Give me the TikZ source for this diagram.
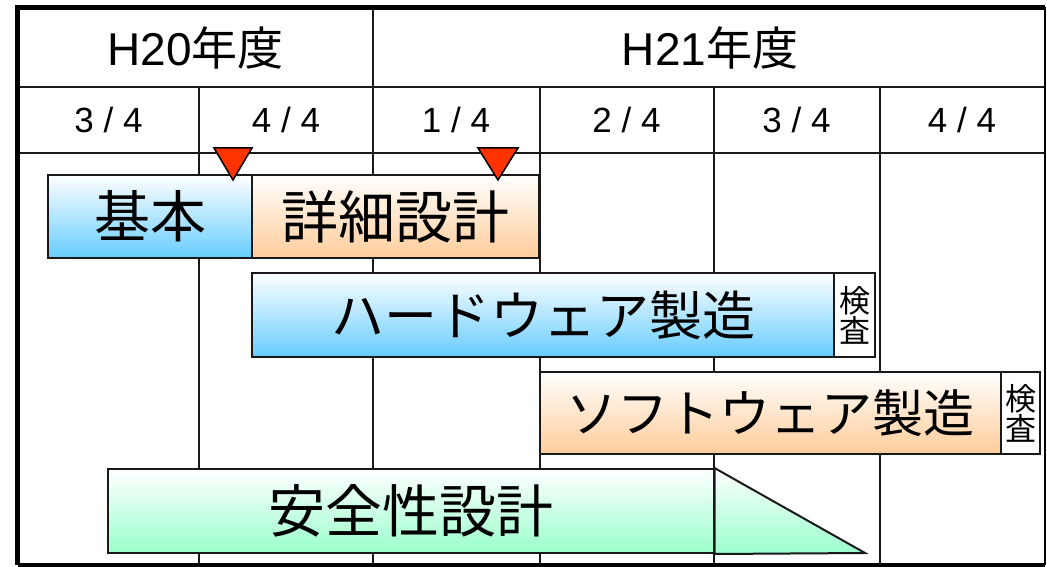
\documentclass[tikz,border=0pt]{standalone}
\usepackage{fontspec}
\setmainfont{Liberation Sans}
\newfontfamily\cjk{Noto Sans CJK JP}
\definecolor{blueb}{HTML}{66CCFF}
\definecolor{orangeb}{HTML}{FFCC99}
\definecolor{greenb}{HTML}{99FFCC}
\definecolor{markred}{HTML}{FF3300}
\begin{document}
\begin{tikzpicture}[x=1pt,y=-1pt,
  grid/.style={line width=2pt,black!90},
  frameline/.style={line width=5pt,black},
  yearlbl/.style={inner sep=0pt,font=\fontsize{46}{50}\selectfont},
  qlbl/.style={inner sep=0pt,font=\fontsize{35}{40}\selectfont},
  bar/.style={draw=black!90,line width=2pt,inner sep=0pt,
    font=\cjk\fontsize{57}{60}\selectfont},
  bluebar/.style={bar,top color=white,bottom color=blueb},
  orangebar/.style={bar,top color=white,bottom color=orangeb},
  greenbar/.style={bar,top color=white,bottom color=greenb},
  kensa/.style={draw=black!90,line width=2pt,fill=white,inner sep=0pt,
    align=center,font=\cjk\fontsize{31}{30}\selectfont},
  marker/.style={draw=black,line width=1.5pt,fill=markred,line join=miter}]
\useasboundingbox (0,0) rectangle (1047,567);

% grid
\coordinate (tl) at (17.5,7.5);
\coordinate (tr) at (1045,7.5);
\coordinate (bl) at (17.5,565);
\coordinate (br) at (1045,565);
\draw[grid] (17.5,87) -- (1045,87);
\draw[grid] (17.5,153) -- (1045,153);
\draw[grid] (373,7.5) -- (373,565);
\foreach \x in {199,539.5,713.5,879.5}
  \draw[grid] (\x,87) -- (\x,565);
\draw[line width=2.5pt] (tr) -- (br);
\draw[frameline] (bl) -- (br);
\draw[frameline] ([xshift=-2.5pt]tl) -- (tr);
\draw[frameline] (tl) -- (bl);

% header labels
\node[yearlbl] (y20) at (195.5,48) {H20{\cjk 年度}};
\node[yearlbl] (y21) at (710,48) {H21{\cjk 年度}};
\node[qlbl] (q1) at (108.5,120) {3 / 4};
\node[qlbl] (q2) at (286,120) {4 / 4};
\node[qlbl] (q3) at (456,120) {1 / 4};
\node[qlbl] (q4) at (626.5,120) {2 / 4};
\node[qlbl] (q5) at (796.5,120) {3 / 4};
\node[qlbl] (q6) at (962,120) {4 / 4};

% bars
\node[bluebar,minimum width=204pt,minimum height=83pt,
  font=\cjk\fontsize{56}{60}\selectfont] (kihon) at (150,216.5) {基本};
\node[orangebar,minimum width=287pt,minimum height=83pt] (shosai) at (395.5,216.5) {詳細設計};
\node[bluebar,minimum width=582pt,minimum height=84pt,
  font=\cjk\fontsize{53}{58}\selectfont] (hw) at (543,315) {ハードウェア製造};
\node[kensa,minimum width=41pt,minimum height=84pt] (hwk) at (854.5,315) {検\\査};
\node[orangebar,minimum width=461pt,minimum height=82pt,
  font=\cjk\fontsize{51}{56}\selectfont] (sw) at (770.5,413) {ソフトウェア製造};
\node[kensa,minimum width=39pt,minimum height=82pt] (swk) at (1020.5,413) {検\\査};
\node[greenbar,minimum width=605.5pt,minimum height=84pt] (anzen) at (410.75,511) {安全性設計};
\coordinate (tri) at (865,553);
\draw[draw=black!90,line width=2pt,top color=white,bottom color=greenb]
  (anzen.north east) -- (tri) -- (anzen.south east) -- cycle;

% milestone markers
\coordinate (m1) at (233,180);
\coordinate (m2) at (498,180);
\draw[marker] (m1) -- ++(-19,-32) -- ++(38,0) -- cycle;
\draw[marker] (m2) -- ++(-20,-32) -- ++(40,0) -- cycle;
\end{tikzpicture}
\end{document}
